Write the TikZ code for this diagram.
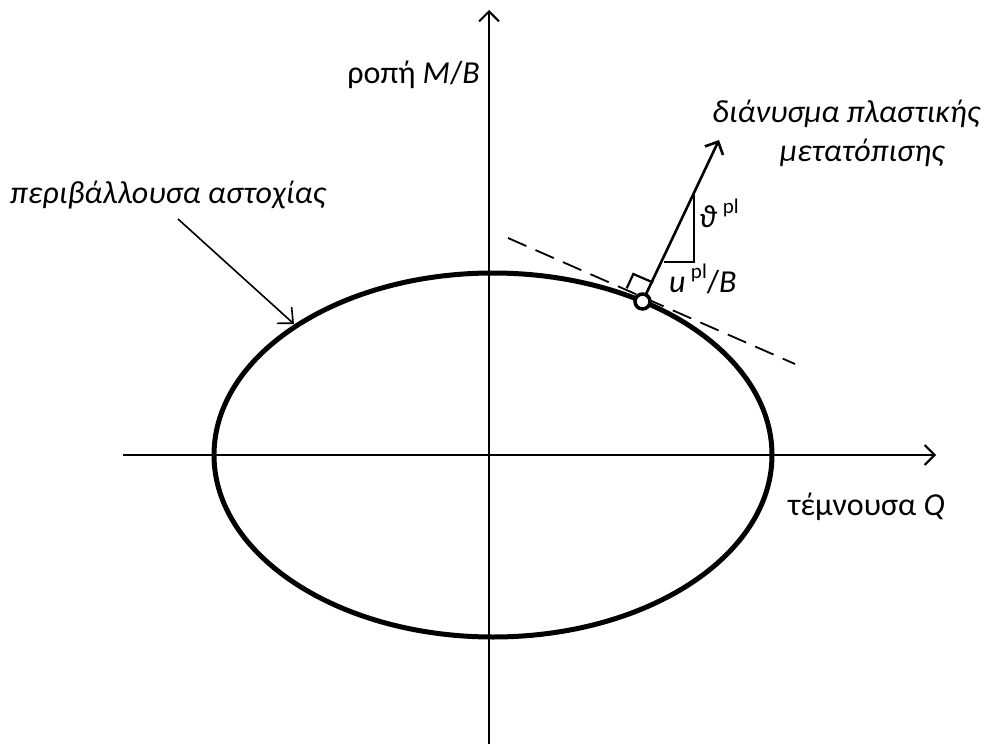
\documentclass[tikz,border=0pt]{standalone}
\usepackage{fontspec}
\setmainfont{Carlito}
\usetikzlibrary{arrows.meta,calc}
\tikzset{
  axisline/.style={line width=2pt,-{Straight Barb[length=10,width=20,line width=2pt]}},
  lbl/.style={font=\fontsize{32}{38}\selectfont,inner sep=0pt},
  ilbl/.style={font=\fontsize{32}{38}\selectfont\itshape,inner sep=0pt},
}
\newcommand{\plsup}{\raisebox{0.42em}{\fontsize{21}{24}\selectfont\upshape pl}}
\begin{document}
\begin{tikzpicture}[x=1pt,y=-1pt]
\useasboundingbox (0,0) rectangle (989,744);
% axes
\coordinate (xs) at (123,455);
\coordinate (xe) at (936,455);
\coordinate (ys) at (489,744);
\coordinate (ye) at (489,10);
\draw[axisline] (xs) -- (xe);
\draw[axisline] (ys) -- (ye);
% ellipse
\coordinate (c) at (493,455);
\draw[line width=5pt] (c) ellipse [x radius=279, y radius=182];
% tangent
\coordinate (t1) at (508,238);
\coordinate (t2) at (795,364);
\draw[line width=1.8pt,dash pattern=on 20pt off 10pt] (t1) -- (t2);
% normal vector
\coordinate (p) at (642.5,301.5);
\coordinate (nt) at (719,140);
\draw[line width=2.6pt,-{Straight Barb[length=10,width=20,line width=2.6pt]}] (p) -- (nt);
% triangle
\coordinate (tr1) at (694,195);
\coordinate (tr2) at (694,262);
\coordinate (tr3) at (664,262);
\draw[line width=2.6pt] (tr1) -- (tr2) -- (tr3);
% right-angle mark
\coordinate (r1) at (626.7,288.3);
\coordinate (r2) at (633.3,274);
\coordinate (r3) at (653.3,282.6);
\draw[line width=2.2pt] (r1) -- (r2) -- (r3);
% point
\node[circle,draw,fill=white,line width=3.5pt,minimum size=15pt,inner sep=0pt] (pt) at (p) {};
% labels
\node[lbl,anchor=base east] (mlab) at (480,83) {ροπή \textit{M}/\textit{B}};
\node[lbl,anchor=base west] (qlab) at (788,515) {τέμνουσα \textit{Q}};
\node[ilbl,anchor=base west] (env) at (10,203) {περιβάλλουσα αστοχίας};
\node[ilbl,anchor=base] (vec1) at (846,122) {διάνυσμα πλαστικής};
\node[ilbl,anchor=base] (vec2) at (862,161) {μετατόπισης};
\node[lbl,anchor=base west] (th) at (699,227) {\textit{ϑ}\,\plsup};
\node[lbl,anchor=base west] (ul) at (669,292) {\textit{u}\,\plsup/\textit{B}};
% pointer arrow
\coordinate (a1) at (178,219);
\coordinate (a2) at (294,324);
\draw[line width=1.6pt,-{Straight Barb[length=12,width=22,line width=1.6pt]}] (a1) -- (a2);
\end{tikzpicture}
\end{document}
